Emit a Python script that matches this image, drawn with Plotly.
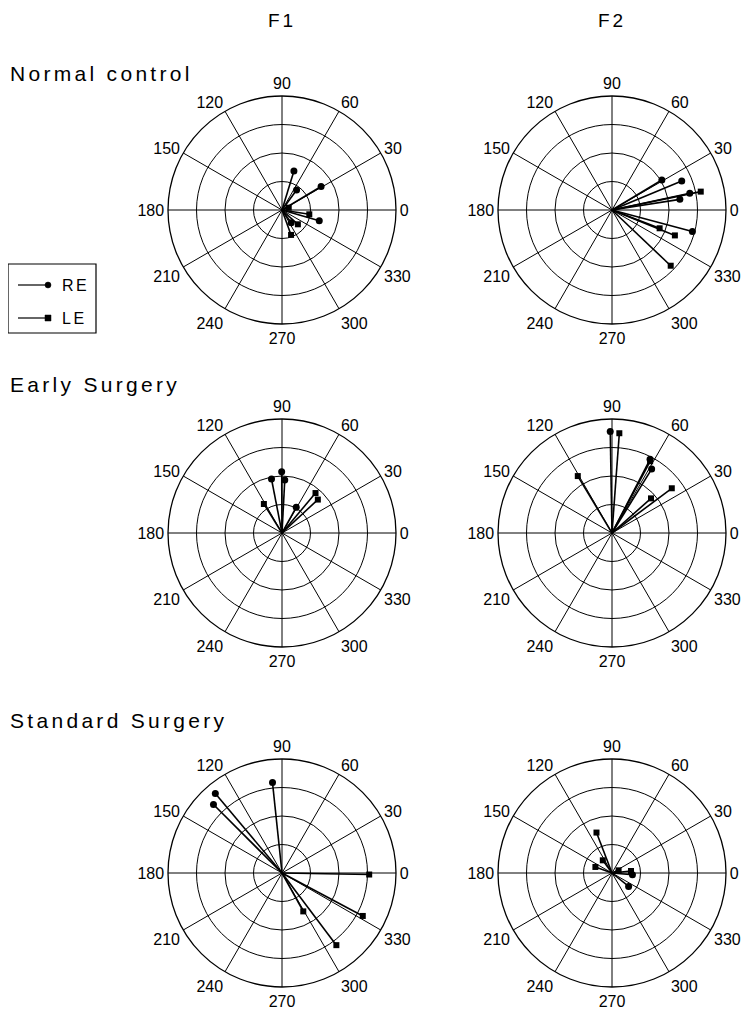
import plotly.graph_objects as go

# page body has an 8px margin, so the figure is drawn 8px smaller and shifted
OFF = 8
W, H = 749 - OFF, 1017 - OFF

# angle (deg), length (ring units) for each vector
f1_normal_re_theta = [73, 54, 31, 344, 306]
f1_normal_re_r = [1.43, 0.87, 1.60, 1.36, 0.55]
f1_normal_le_theta = [351, 318, 290, 19]
f1_normal_le_r = [0.97, 0.75, 0.93, 0.25]

f2_normal_re_theta = [31, 22.6, 12.1, 8.9, 345]
f2_normal_re_r = [2.04, 2.65, 2.79, 2.41, 2.92]
f2_normal_le_theta = [11.7, 339, 338, 316.5]
f2_normal_le_r = [3.18, 1.79, 2.38, 2.84]

f1_early_re_theta = [90.3, 101, 87, 61]
f1_early_re_r = [2.15, 1.93, 1.86, 1.03]
f1_early_le_theta = [122, 50, 43]
f1_early_le_r = [1.20, 1.83, 1.72]

f2_early_re_theta = [91, 62.7, 58.2]
f2_early_re_r = [3.56, 2.91, 2.64]
f2_early_le_theta = [85.8, 62, 121, 36.8, 41.6]
f2_early_le_r = [3.51, 2.85, 2.33, 2.62, 1.83]

f1_std_re_theta = [96, 130, 135]
f1_std_re_r = [3.19, 3.64, 3.40]
f1_std_le_theta = [359, 332, 307, 299]
f1_std_le_r = [3.06, 3.21, 3.17, 1.54]

f2_std_re_theta = [355, 321]
f2_std_re_r = [0.72, 0.75]
f2_std_le_theta = [111, 126, 160, 6, 22]
f2_std_le_r = [1.52, 0.55, 0.62, 0.67, 0.25]

panels = [
    (f1_normal_re_theta, f1_normal_re_r, f1_normal_le_theta, f1_normal_le_r),
    (f2_normal_re_theta, f2_normal_re_r, f2_normal_le_theta, f2_normal_le_r),
    (f1_early_re_theta, f1_early_re_r, f1_early_le_theta, f1_early_le_r),
    (f2_early_re_theta, f2_early_re_r, f2_early_le_theta, f2_early_le_r),
    (f1_std_re_theta, f1_std_re_r, f1_std_le_theta, f1_std_le_r),
    (f2_std_re_theta, f2_std_re_r, f2_std_le_theta, f2_std_le_r),
]

angle_ticks = list(range(0, 360, 30))
ring_vals = [1, 2, 3, 4]
col_titles = ["F1", "F2"]
row_titles = ["Normal control", "Early Surgery", "Standard Surgery"]

# panel centres and radius, in page pixels
col_cx = [282, 612]
row_cy = [210, 533, 873]
rad = 114

FONT = "Liberation Sans, Arial, sans-serif"


def px(x, y):
    return (x - OFF) / W, 1 - (y - OFF) / H


def spokes(theta, r):
    tt, rr = [], []
    for t, v in zip(theta, r):
        tt += [t, t, None]
        rr += [0, v, None]
    return tt, rr


fig = go.Figure()
layout = {}
k = 0
for row in range(3):
    for col in range(2):
        re_t, re_r, le_t, le_r = panels[k]
        k += 1
        name = "polar" if k == 1 else "polar%d" % k
        for th, rv, sym in [(re_t, re_r, "circle"), (le_t, le_r, "square")]:
            lt, lr = spokes(th, rv)
            fig.add_trace(go.Scatterpolar(
                theta=lt, r=lr, mode="lines", subplot=name, showlegend=False,
                line=dict(color="black", width=1.6), hoverinfo="skip"))
            fig.add_trace(go.Scatterpolar(
                theta=th, r=rv, mode="markers", subplot=name, showlegend=False,
                marker=dict(symbol=sym, color="black", size=7 if sym == "circle" else 6)))
        cx, cy = col_cx[col], row_cy[row]
        xa, yb = px(cx - rad, cy + rad)
        xb, ya = px(cx + rad, cy - rad)
        layout[name] = dict(
            domain=dict(x=[xa, xb], y=[yb, ya]),
            bgcolor="white",
            radialaxis=dict(range=[0, 4], tickvals=ring_vals, showticklabels=False,
                            ticks="", showline=False, gridcolor="black", gridwidth=1.2),
            angularaxis=dict(tickvals=angle_ticks, ticktext=[str(a) for a in angle_ticks],
                             direction="counterclockwise", rotation=0,
                             showline=True, linecolor="black", linewidth=1.3,
                             gridcolor="black", gridwidth=1.2, ticks="",
                             tickfont=dict(size=16, color="black", family=FONT)),
        )

fig.update_layout(**layout)

ann = []
for i, t in enumerate(col_titles):
    x, y = px(col_cx[i], 20)
    ann.append(dict(x=x, y=y, text='<span style="letter-spacing:3px">%s</span>' % t,
                    showarrow=False, xref="paper", yref="paper",
                    xanchor="center", yanchor="middle",
                    font=dict(size=19, family=FONT, color="black")))
for t, yy in zip(row_titles, [73, 385, 720]):
    x, y = px(8, yy)
    ann.append(dict(x=x, y=y, text='<span style="letter-spacing:3.3px">%s</span>' % t,
                    showarrow=False, xref="paper", yref="paper",
                    xanchor="left", yanchor="middle",
                    font=dict(size=21, family=FONT, color="black")))

# legend drawn by hand: line ending in marker
shapes = []
x0, y0 = px(8, 264)
x1, y1 = px(96, 333)
shapes.append(dict(type="rect", xref="paper", yref="paper", x0=x0, y0=y0, x1=x1, y1=y1,
                   line=dict(color="black", width=1.2)))
for lab, yy, kind in [("RE", 285, "circle"), ("LE", 318, "rect")]:
    a, b = px(18, yy)
    c, _ = px(48, yy)
    shapes.append(dict(type="line", xref="paper", yref="paper", x0=a, y0=b, x1=c, y1=b,
                       line=dict(color="black", width=1.2)))
    m0, n0 = px(45, yy - 3)
    m1, n1 = px(51, yy + 3)
    shapes.append(dict(type=kind, xref="paper", yref="paper", x0=m0, y0=n1, x1=m1, y1=n0,
                       fillcolor="black", line=dict(color="black", width=0.5)))
    tx, ty = px(60, yy)
    ann.append(dict(x=tx, y=ty, text='<span style="letter-spacing:2.5px">%s</span>' % lab,
                    showarrow=False, xref="paper", yref="paper",
                    xanchor="left", yanchor="middle",
                    font=dict(size=16, family=FONT, color="black")))

fig.update_layout(
    width=W, height=H, margin=dict(l=0, r=0, t=0, b=0),
    paper_bgcolor="white", plot_bgcolor="white",
    annotations=ann, shapes=shapes, showlegend=False,
)

fig.write_html("out.html")
